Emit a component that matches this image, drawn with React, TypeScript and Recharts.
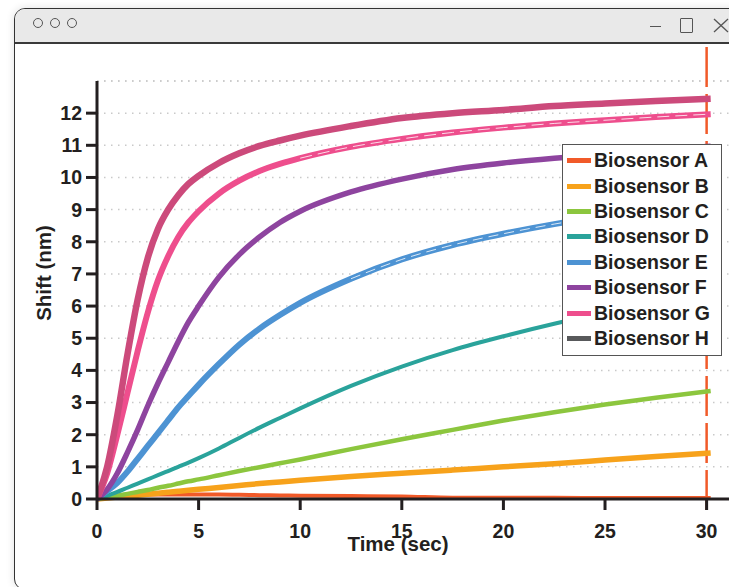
import React from 'react';
import { LineChart, Line, XAxis, YAxis, CartesianGrid, ReferenceLine, Legend, Label } from 'recharts';

// time points (sec)
const TIME = [0, 0.5, 1, 1.5, 2, 2.5, 3, 3.5, 4, 4.5, 5, 6, 7, 8, 9, 10, 12.5, 15, 17.5, 20, 22.5, 25, 27.5, 30.2];

// shift (nm) per biosensor
const SENSOR_A = [0, 0.06, 0.1, 0.12, 0.13, 0.14, 0.14, 0.14, 0.14, 0.14, 0.14, 0.14, 0.13, 0.12, 0.11, 0.1, 0.09, 0.08, 0.04, 0.04, 0.04, 0.03, 0.03, 0.03];
const SENSOR_B = [0, 0.03, 0.06, 0.09, 0.12, 0.15, 0.18, 0.21, 0.24, 0.27, 0.3, 0.36, 0.42, 0.48, 0.53, 0.58, 0.7, 0.8, 0.9, 1.0, 1.1, 1.21, 1.32, 1.43];
const SENSOR_C = [0, 0.05, 0.1, 0.16, 0.22, 0.28, 0.35, 0.41, 0.48, 0.55, 0.61, 0.74, 0.87, 0.99, 1.11, 1.23, 1.55, 1.86, 2.15, 2.44, 2.7, 2.94, 3.15, 3.36];
const SENSOR_D = [0, 0.1, 0.22, 0.35, 0.48, 0.61, 0.74, 0.87, 1.0, 1.13, 1.27, 1.57, 1.9, 2.22, 2.52, 2.82, 3.52, 4.12, 4.63, 5.06, 5.45, 5.8, 6.1, 6.38];
const SENSOR_E = [0, 0.25, 0.5, 0.85, 1.25, 1.65, 2.05, 2.45, 2.85, 3.2, 3.55, 4.2, 4.8, 5.3, 5.72, 6.1, 6.85, 7.45, 7.9, 8.25, 8.55, 8.8, 9.0, 9.2];
const SENSOR_F = [0, 0.3, 0.8, 1.45, 2.15, 2.9, 3.6, 4.25, 4.9, 5.5, 6.0, 6.9, 7.6, 8.15, 8.6, 8.95, 9.55, 9.95, 10.25, 10.45, 10.6, 10.72, 10.85, 10.97];
const SENSOR_G = [0, 0.8, 2.0, 3.3, 4.6, 5.8, 6.8, 7.55, 8.15, 8.6, 8.95, 9.5, 9.9, 10.2, 10.42, 10.6, 10.95, 11.2, 11.4, 11.55, 11.68, 11.78, 11.88, 11.97];
// upper rose trace (not in legend)
const SENSOR_TOP = [0, 1.0, 2.6, 4.5, 6.2, 7.5, 8.4, 9.0, 9.45, 9.8, 10.05, 10.45, 10.75, 10.98, 11.15, 11.3, 11.6, 11.85, 12.0, 12.1, 12.22, 12.3, 12.38, 12.45];

const SENSOR_NAMES = ['Biosensor A', 'Biosensor B', 'Biosensor C', 'Biosensor D', 'Biosensor E', 'Biosensor F', 'Biosensor G', 'Biosensor H'];
const SENSOR_COLORS = ['#f15a29', '#f7a21b', '#8cc63e', '#2aa39b', '#4d93d3', '#8e449f', '#ee4e8d', '#58595b'];

const X_TICKS = [0, 5, 10, 15, 20, 25, 30];
const Y_TICKS = [0, 1, 2, 3, 4, 5, 6, 7, 8, 9, 10, 11, 12];

// replicate gaps show as a light streak in G (from 10 s) and E (from 12.5 s)
const data = TIME.map((t, i) => ({
  t,
  A: SENSOR_A[i],
  B: SENSOR_B[i],
  C: SENSOR_C[i],
  D: SENSOR_D[i],
  E: SENSOR_E[i],
  F: SENSOR_F[i],
  G: SENSOR_G[i],
  top: SENSOR_TOP[i],
  gStreak: t >= 10 ? SENSOR_G[i] : null,
  eStreak: t >= 12.5 ? SENSOR_E[i] : null,
}));

const FONT = '"Liberation Sans", Arial, Helvetica, sans-serif';
const INK = '#231f20';

function LegendBox() {
  return (
    <div style={{ border: '1.5px solid #555', background: '#fff', padding: '3px 6px 4px 4px', boxSizing: 'border-box', width: 160 }}>
      {SENSOR_NAMES.map((name, i) => (
        <div key={name} style={{ display: 'flex', alignItems: 'center', height: 25.4 }}>
          <div style={{ width: 24, height: 5, background: SENSOR_COLORS[i], marginRight: 3 }} />
          <span style={{ fontFamily: FONT, fontWeight: 700, fontSize: 19.5, color: INK, whiteSpace: 'nowrap' }}>{name}</span>
        </div>
      ))}
    </div>
  );
}

function Window() {
  return (
    <div style={{ position: 'absolute', left: 14, top: 8, width: 760, height: 580, border: '1.5px solid #333', borderRadius: 11, boxShadow: '0 0 8px rgba(0,0,0,0.12)', background: '#fff', overflow: 'hidden' }}>
      <div style={{ height: 33, background: '#e9e9e9', borderBottom: '2px solid #3a3a3a', position: 'relative' }}>
        {[23, 40, 57].map((x) => (
          <div key={x} style={{ position: 'absolute', left: x - 5, top: 9, width: 8, height: 8, borderRadius: '50%', border: '1.2px solid #555' }} />
        ))}
        <div style={{ position: 'absolute', left: 635, top: 17, width: 11, height: 1.3, background: '#555' }} />
        <div style={{ position: 'absolute', left: 665, top: 9, width: 11, height: 13, border: '1.2px solid #555', borderRadius: 1 }} />
        <svg style={{ position: 'absolute', left: 698, top: 9 }} width={16} height={15}>
          <line x1={1} y1={1} x2={15} y2={14} stroke="#555" strokeWidth={1.3} />
          <line x1={15} y1={1} x2={1} y2={14} stroke="#555" strokeWidth={1.3} />
        </svg>
      </div>
    </div>
  );
}

export default function App() {
  return (
    <div style={{ position: 'absolute', left: 0, top: 0, width: 729, height: 587, overflow: 'hidden', background: '#fff' }}>
      <Window />
      <div style={{ position: 'absolute', left: 0, top: 0 }}>
        <LineChart width={731} height={587} data={data} margin={{ top: 81, right: 0, bottom: 0, left: 37 }}>
          <CartesianGrid vertical={false} stroke="#c9c9c9" strokeWidth={1.5} strokeDasharray="1.5 5.5" />
          <ReferenceLine y={13} stroke="#c9c9c9" strokeWidth={1.5} strokeDasharray="1.5 5.5" />
          <XAxis
            type="number"
            dataKey="t"
            domain={[0, 31.2]}
            ticks={X_TICKS}
            height={88}
            allowDataOverflow
            axisLine={{ stroke: INK, strokeWidth: 3 }}
            tickLine={{ stroke: INK, strokeWidth: 3 }}
            tickSize={11}
            tickMargin={14}
            tick={{ fill: INK, fontSize: 19.5, fontWeight: 700, fontFamily: FONT }}
          >
            <Label
              content={({ viewBox }: any) => (
                <text x={viewBox.x + 301} y={551} textAnchor="middle" fill={INK} fontSize={20.5} fontWeight={700} fontFamily={FONT}>
                  Time (sec)
                </text>
              )}
            />
          </XAxis>
          <YAxis
            type="number"
            domain={[0, 13]}
            ticks={Y_TICKS}
            width={60}
            axisLine={{ stroke: INK, strokeWidth: 3 }}
            tickLine={{ stroke: INK, strokeWidth: 3 }}
            tickSize={11}
            tickMargin={4}
            tick={{ fill: INK, fontSize: 19.5, fontWeight: 700, fontFamily: FONT }}
          >
            <Label
              content={({ viewBox }: any) => {
                const cx = viewBox.x + 14;
                const cy = viewBox.y + viewBox.height / 2 - 17;
                return (
                  <text x={cx} y={cy} transform={`rotate(-90 ${cx} ${cy})`} textAnchor="middle" fill={INK} fontSize={20.5} fontWeight={700} fontFamily={FONT}>
                    Shift (nm)
                  </text>
                );
              }}
            />
          </YAxis>
          <ReferenceLine
            x={30}
            stroke="#f15a29"
            shape={(p: any) => {
              const yTop = Math.min(p.y1, p.y2);
              const yBot = Math.max(p.y1, p.y2);
              return <line x1={p.x1} x2={p.x2} y1={yTop - 34} y2={yBot + 13} stroke="#f15a29" strokeWidth={2.5} strokeDasharray="40 7" />;
            }}
          />
          <Line type="monotone" dataKey="A" name={SENSOR_NAMES[0]} stroke={SENSOR_COLORS[0]} strokeWidth={4} dot={false} isAnimationActive={false} />
          <Line type="monotone" dataKey="B" name={SENSOR_NAMES[1]} stroke={SENSOR_COLORS[1]} strokeWidth={5.5} dot={false} isAnimationActive={false} />
          <Line type="monotone" dataKey="C" name={SENSOR_NAMES[2]} stroke={SENSOR_COLORS[2]} strokeWidth={4.5} dot={false} isAnimationActive={false} />
          <Line type="monotone" dataKey="D" name={SENSOR_NAMES[3]} stroke={SENSOR_COLORS[3]} strokeWidth={4} dot={false} isAnimationActive={false} />
          <Line type="monotone" dataKey="E" name={SENSOR_NAMES[4]} stroke={SENSOR_COLORS[4]} strokeWidth={6} dot={false} isAnimationActive={false} />
          <Line type="monotone" dataKey="eStreak" stroke="#dbe9f6" strokeWidth={1} strokeDasharray="10 6" dot={false} legendType="none" connectNulls={false} isAnimationActive={false} />
          <Line type="monotone" dataKey="F" name={SENSOR_NAMES[5]} stroke={SENSOR_COLORS[5]} strokeWidth={5.5} dot={false} isAnimationActive={false} />
          <Line type="monotone" dataKey="G" name={SENSOR_NAMES[6]} stroke={SENSOR_COLORS[6]} strokeWidth={6} dot={false} isAnimationActive={false} />
          <Line type="monotone" dataKey="gStreak" stroke="#fbdbe8" strokeWidth={1} strokeDasharray="12 6" dot={false} legendType="none" connectNulls={false} isAnimationActive={false} />
          <Line type="monotone" dataKey="top" stroke="#cc4a7b" strokeWidth={6.5} dot={false} legendType="none" isAnimationActive={false} />
          <Legend layout="vertical" align="center" verticalAlign="middle" wrapperStyle={{ left: 562, top: 144, width: 160 }} content={() => <LegendBox />} />
        </LineChart>
      </div>
    </div>
  );
}
